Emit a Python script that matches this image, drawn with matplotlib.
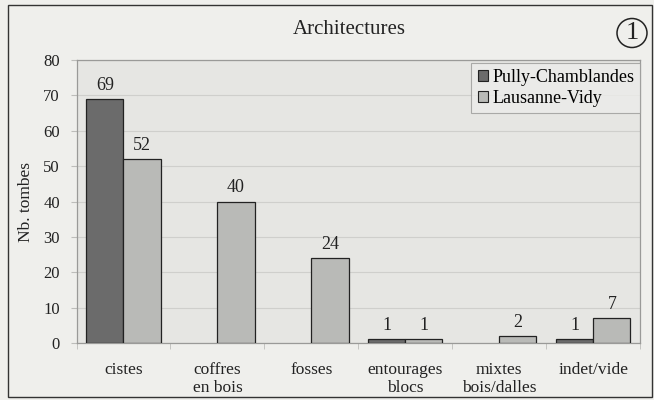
import matplotlib.pyplot as plt
import numpy as np
from matplotlib.patches import Rectangle, Ellipse

categories = ["cistes", "coffres\nen bois", "fosses", "entourages\nblocs", "mixtes\nbois/dalles", "indet/vide"]
pully = [69, 0, 0, 1, 0, 1]
lausanne = [52, 40, 24, 1, 2, 7]
series_names = ["Pully-Chamblandes", "Lausanne-Vidy"]

plt.rcParams['font.family'] = ['Liberation Serif', 'DejaVu Serif']

fig = plt.figure(figsize=(6.54, 4.0), dpi=100, facecolor='#efefec')
ax = fig.add_axes([0.117, 0.1425, 0.862, 0.7075])
ax.set_facecolor('#e6e6e3')

x = np.arange(len(categories))
w = 0.395
dark = '#6b6b6b'
light = '#b9bab7'
txt = '#222222'

# zero values get no bar and no label
for xi, v in zip(x, pully):
    if v > 0:
        ax.bar(xi - w / 2, v, w, color=dark, edgecolor=txt, linewidth=0.9, zorder=3)
        ax.text(xi - w / 2, v + 1.5, str(v), ha='center', va='bottom', fontsize=13, color=txt)
for xi, v in zip(x, lausanne):
    if v > 0:
        ax.bar(xi + w / 2, v, w, color=light, edgecolor=txt, linewidth=0.9, zorder=3)
        ax.text(xi + w / 2, v + 1.5, str(v), ha='center', va='bottom', fontsize=13, color=txt)

ax.set_xlim(-0.5, len(categories) - 0.5)
ax.set_ylim(0, 80)
ax.set_yticks(np.arange(0, 81, 10))
ax.yaxis.grid(True, color='#cfcfcc', linewidth=0.8, zorder=0)
ax.set_axisbelow(True)
ax.set_xticks(x)
ax.set_xticklabels(categories, fontsize=12.5, color=txt, linespacing=1.1)
ax.set_xticks(np.arange(-0.5, len(categories)), minor=True)
ax.tick_params(axis='x', which='major', length=0, pad=14)
ax.tick_params(axis='x', which='minor', length=4, color='#bdbdba', direction='out')
ax.tick_params(axis='y', length=4, color='#bdbdba', pad=8, labelsize=12, labelcolor=txt)
for s in ax.spines.values():
    s.set_color('#9a9a98')
    s.set_linewidth(0.9)
ax.set_ylabel("Nb. tombes", fontsize=12.5, color=txt)
ax.yaxis.set_label_coords(-0.076, 0.5)

handles = [Rectangle((0, 0), 1, 1, facecolor=dark, edgecolor=txt, linewidth=0.8),
           Rectangle((0, 0), 1, 1, facecolor=light, edgecolor=txt, linewidth=0.8)]
leg = ax.legend(handles, series_names, loc='upper right', bbox_to_anchor=(1.005, 1.0),
                fontsize=13, frameon=True, fancybox=False, handlelength=0.55, handleheight=0.55,
                handletextpad=0.25, borderpad=0.35, labelspacing=0.2, borderaxespad=0.15)
leg.get_frame().set_facecolor('#ececea')
leg.get_frame().set_edgecolor('#9a9a98')
leg.get_frame().set_linewidth(0.8)

fig.text(349.5 / 654, 1 - 30 / 400, "Architectures", ha='center', va='center', fontsize=15, color=txt)
fig.text(632 / 654, 1 - 33 / 400, "1", ha='center', va='center', fontsize=19, color=txt)
fig.patches.append(Ellipse((632 / 654, 1 - 33 / 400), 30 / 654, 29 / 400, transform=fig.transFigure,
                           fill=False, edgecolor=txt, linewidth=1.1))

fig.patches.append(Rectangle((8 / 654, 3 / 400), 644 / 654, 392 / 400, transform=fig.transFigure,
                             fill=False, edgecolor='#333333', linewidth=1.0))

fig.savefig("out.png", dpi=100, facecolor=fig.get_facecolor())
